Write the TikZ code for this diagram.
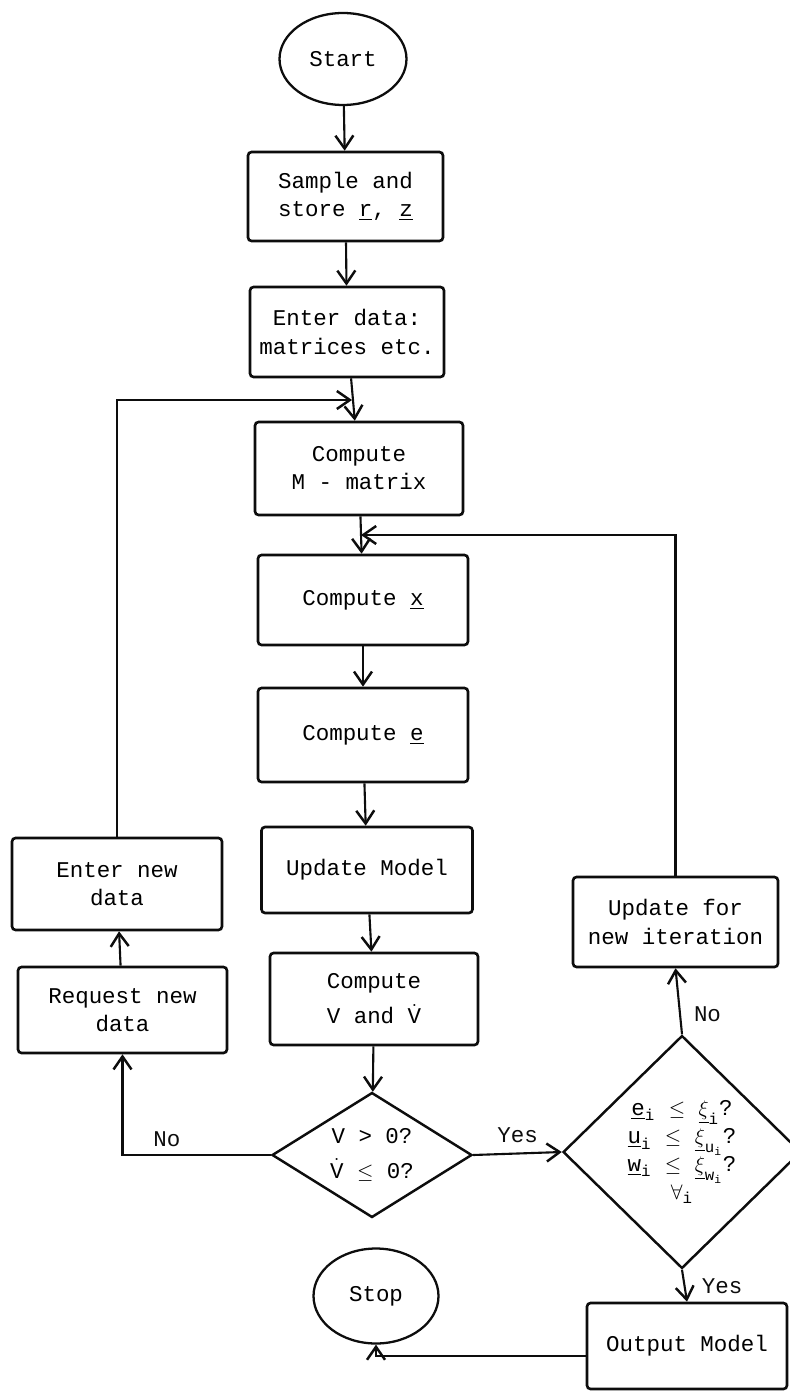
\documentclass[tikz,border=0pt]{standalone}
\usepackage{amssymb}
\usepackage{amsmath}
\usepackage{xcolor}
\usepackage{fontspec}
\setmonofont{Liberation Mono}
\usepackage{tikz}
\usetikzlibrary{shapes.geometric,arrows.meta}
\definecolor{color_trait}{rgb}{0.05,0.05,0.05}
\definecolor{color_fond}{rgb}{1,1,1}

\tikzset{
	boite/.style={draw=color_trait, line width=1.5pt, rounded corners=2pt, align=center,
		font=\ttfamily\fontsize{12.8}{16}\selectfont, inner sep=2pt},
	bulle/.style={draw=color_trait, line width=1.3pt, ellipse, inner sep=0pt,
		font=\ttfamily\fontsize{12.8}{16}\selectfont},
	losange/.style={draw=color_trait, line width=1.4pt, diamond, inner sep=0pt, align=center,
		font=\ttfamily\fontsize{12.8}{16}\selectfont},
	fleche/.style={color_trait, line width=1.2pt, -{Straight Barb[length=2.6mm,width=3.6mm,line width=1.4pt]}},
	etiq/.style={font=\ttfamily\fontsize{12.8}{16}\selectfont, text=color_trait}
}

\begin{document}
\begin{tikzpicture}[x=0.02cm, y=-0.02cm]
			% Fond blanc
			\fill[color_fond] (0,0) rectangle (789,1391);
			\useasboundingbox (0,0) rectangle (789,1391);
			
			% Colonne centrale
			\node[bulle, minimum width=2.54cm, minimum height=1.84cm] (start) at (343,59) {Start};
			\node[boite, minimum width=3.9cm, minimum height=1.78cm] (sample) at (345.5,196.5)
			{Sample and\\store \underline{r}, \underline{z}};
			\node[boite, minimum width=3.88cm, minimum height=1.8cm] (data) at (347,332)
			{Enter data:\\matrices etc.};
			\node[boite, minimum width=4.16cm, minimum height=1.86cm] (mmat) at (359,468.5)
			{Compute\\M - matrix};
			\node[boite, minimum width=4.2cm, minimum height=1.8cm] (compx) at (363,600)
			{Compute \underline{x}};
			\node[boite, minimum width=4.2cm, minimum height=1.88cm] (compe) at (363,735)
			{Compute \underline{e}};
			\node[boite, minimum width=4.22cm, minimum height=1.72cm] (model) at (367,870)
			{Update Model};
			\node[boite, minimum width=4.16cm, minimum height=1.84cm] (compv) at (374,999)
			{Compute\\[4pt]V and $\dot{\mathtt{V}}$};
			\node[losange, minimum width=4cm, minimum height=2.5cm, aspect=1.6] (testv) at (372,1155)
			{V > 0?\\[4pt]$\dot{\mathtt{V}}$ $\le$ 0?};
			\node[bulle, minimum width=2.5cm, minimum height=1.9cm] (stop) at (376,1296) {Stop};
			
			% Colonne de gauche
			\node[boite, minimum width=4.2cm, minimum height=1.84cm] (newdata) at (117,884)
			{Enter new\\data};
			\node[boite, minimum width=4.18cm, minimum height=1.72cm] (request) at (122.5,1010)
			{Request new\\data};
			
			% Colonne de droite
			\node[boite, minimum width=4.1cm, minimum height=1.8cm] (iter) at (675.5,922)
			{Update for\\new iteration};
			\node[losange, minimum width=4.76cm, minimum height=4.66cm, aspect=1] (testerr) at (682,1152)
			{$\underline{\mathtt{e}}_{\mathtt{i}}$ $\le$ $\underline{\xi}_{\mathtt{i}}$?\\
				$\underline{\mathtt{u}}_{\mathtt{i}}$ $\le$ $\underline{\xi}_{\mathtt{u_i}}$?\\
				$\underline{\mathtt{w}}_{\mathtt{i}}$ $\le$ $\underline{\xi}_{\mathtt{w_i}}$?\\
				$\forall_{\mathtt{i}}$};
			\node[boite, minimum width=4cm, minimum height=1.72cm] (output) at (687,1346)
			{Output Model};
			
			% Points de jonction
			\coordinate (mjoin) at (352,400);
			\coordinate (xjoin) at (361,535);
			
			% Fleches principales
			\draw[fleche] (start) -- (sample);
			\draw[fleche] (sample) -- (data);
			\draw[fleche] (data) -- (mmat);
			\draw[fleche] (mmat) -- (compx);
			\draw[fleche] (compx) -- (compe);
			\draw[fleche] (compe) -- (model);
			\draw[fleche] (model) -- (compv);
			\draw[fleche] (compv) -- (testv);
			\draw[fleche] (testv.east) -- (testerr.west) node[etiq, midway, above=2pt] {Yes};
			
			% Boucle de gauche
			\draw[fleche] (testv.west) -| (request.south) node[etiq, pos=0.35, above=1pt] {No};
			\draw[fleche] (request) -- (newdata);
			\draw[fleche] (newdata.north) |- (mjoin);
			
			% Boucle de droite
			\draw[fleche] (testerr.north) -- (iter.south) node[etiq, pos=0.3, right=4pt] {No};
			\draw[fleche] (iter.north) |- (xjoin);
			
			% Sortie
			\draw[fleche] (testerr.south) -- (output.north) node[etiq, midway, right=6pt] {Yes};
			\draw[fleche] ([yshift=-0.2cm]output.west) -| (stop.south);
		\end{tikzpicture}
\end{document}
